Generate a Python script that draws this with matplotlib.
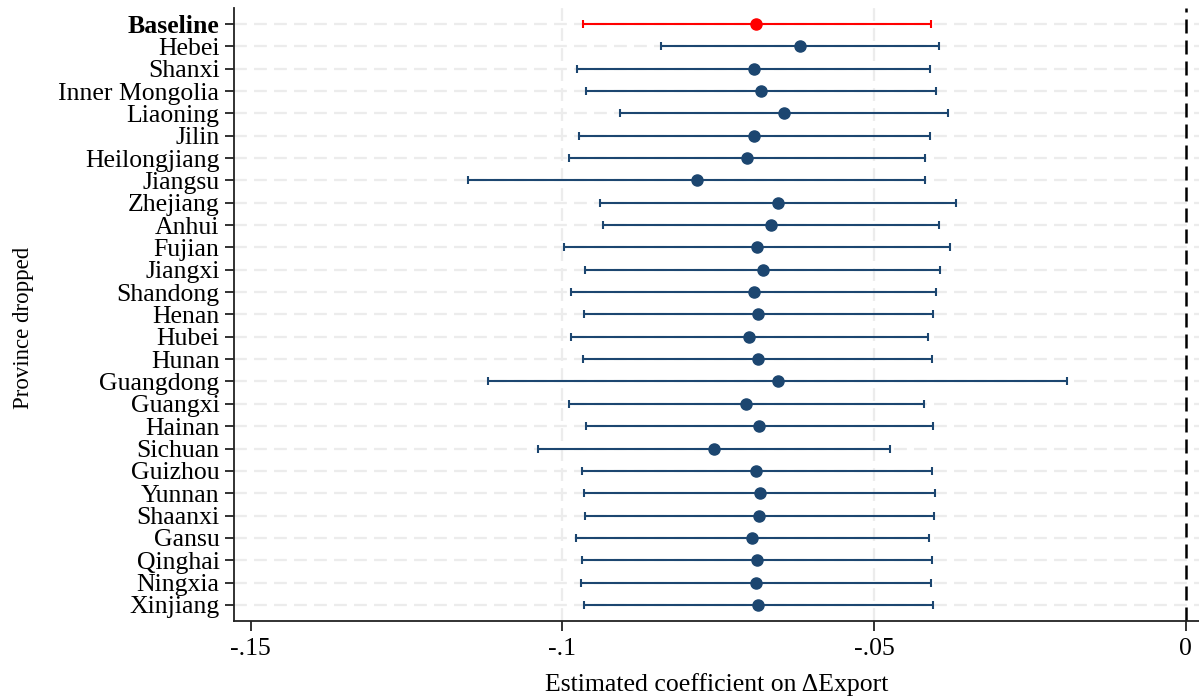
import matplotlib
matplotlib.use("Agg")
import matplotlib.pyplot as plt

provinces = ["Baseline", "Hebei", "Shanxi", "Inner Mongolia", "Liaoning", "Jilin",
             "Heilongjiang", "Jiangsu", "Zhejiang", "Anhui", "Fujian", "Jiangxi",
             "Shandong", "Henan", "Hubei", "Hunan", "Guangdong", "Guangxi", "Hainan",
             "Sichuan", "Guizhou", "Yunnan", "Shaanxi", "Gansu", "Qinghai", "Ningxia",
             "Xinjiang"]
coef = [-0.0689, -0.0619, -0.0693, -0.0682, -0.0644, -0.0692, -0.0704, -0.0784,
        -0.0655, -0.0666, -0.0688, -0.0679, -0.0693, -0.0686, -0.0700, -0.0687,
        -0.0655, -0.0705, -0.0685, -0.0757, -0.0689, -0.0683, -0.0684, -0.0696,
        -0.0688, -0.0690, -0.0686]
ci_low = [-0.0967, -0.0842, -0.0976, -0.0962, -0.0907, -0.0974, -0.0989, -0.1151,
          -0.0940, -0.0935, -0.0997, -0.0964, -0.0986, -0.0965, -0.0986, -0.0967,
          -0.1120, -0.0989, -0.0963, -0.1040, -0.0968, -0.0966, -0.0964, -0.0979,
          -0.0968, -0.0970, -0.0966]
ci_high = [-0.0408, -0.0396, -0.0410, -0.0401, -0.0381, -0.0411, -0.0419, -0.0418,
           -0.0369, -0.0396, -0.0378, -0.0394, -0.0400, -0.0406, -0.0414, -0.0407,
           -0.0191, -0.0420, -0.0405, -0.0474, -0.0407, -0.0402, -0.0404, -0.0412,
           -0.0407, -0.0409, -0.0405]
xticks = [-0.15, -0.10, -0.05, 0.0]
xticklabels = ["-.15", "-.1", "-.05", "0"]

plt.rcParams['font.family'] = ['Liberation Serif', 'DejaVu Serif']

fig = plt.figure(figsize=(11.99, 7.0), dpi=100)
ax = fig.add_axes([0.1952, 0.1129, 0.8048, 0.8757])

navy = "#1c4670"
red = "#ff0000"
ys = list(range(len(provinces)))

# grid
for y in ys:
    ax.axhline(y, color="#ececec", lw=1.6, ls=(0, (5.8, 3.2)), zorder=0)
for x in [-0.10, -0.05]:
    ax.axvline(x, color="#ececec", lw=1.6, ls=(0, (5.8, 3.2)), zorder=0)

ax.axvline(0, color="black", lw=1.8, ls=(0, (5.6, 2.8)), zorder=1)

for i, p in enumerate(provinces):
    c = red if i == 0 else navy
    xerr = [[coef[i] - ci_low[i]], [ci_high[i] - coef[i]]]
    ax.errorbar([coef[i]], [i], xerr=xerr, fmt="o", color=c, ecolor=c,
                markersize=8, elinewidth=1.5, capsize=3.2, capthick=1.5, zorder=3)

fs = 18.5
ax.set_yticks(ys)
ax.set_yticklabels(provinces, fontsize=fs)
ax.get_yticklabels()[0].set_fontweight("bold")
ax.set_ylim(len(provinces) - 1 + 0.72, -0.72)

ax.set_xticks(xticks)
ax.set_xticklabels(xticklabels, fontsize=fs)
ax.set_xlim(-0.1527, 0.00213)

ax.spines["top"].set_visible(False)
ax.spines["right"].set_visible(False)
for s in ["left", "bottom"]:
    ax.spines[s].set_linewidth(1.3)
    ax.spines[s].set_color("#222222")
ax.tick_params(axis="y", length=6.5, width=1.3, pad=4, colors="#222222", labelcolor="black")
ax.tick_params(axis="x", length=7, width=1.3, pad=5, colors="#222222", labelcolor="black")

ax.set_xlabel("Estimated coefficient on \u0394Export", fontsize=fs)
ax.xaxis.set_label_coords(0.5, -0.085)
ax.set_ylabel("Province dropped", fontsize=16.5)
ax.yaxis.set_label_coords(-0.2073, 0.478)

fig.savefig("out.png", dpi=100)
